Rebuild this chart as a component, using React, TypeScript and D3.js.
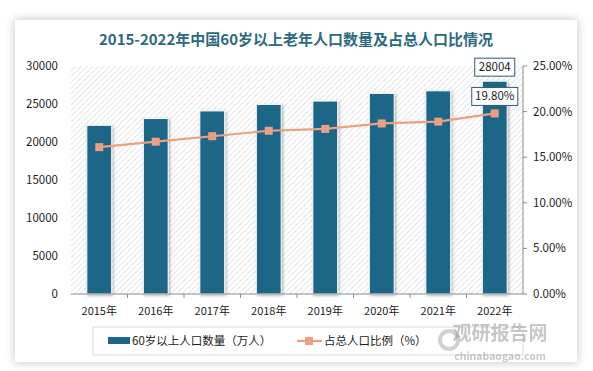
import { useRef, useEffect } from 'react';
import * as d3 from 'd3';

const years = ['2015年', '2016年', '2017年', '2018年', '2019年', '2020年', '2021年', '2022年'];
const population = [22200, 23086, 24090, 24949, 25388, 26402, 26736, 28004];
const ratio = [16.1, 16.7, 17.3, 17.9, 18.1, 18.7, 18.9, 19.8];
const leftTicks = [0, 5000, 10000, 15000, 20000, 25000, 30000];
const rightTicks = [0, 5, 10, 15, 20, 25];

const W = 593;
const H = 371;
const BAR = '#1d6688';
const LINE = '#e9a181';
const FONT = '"Noto Sans CJK SC", "DejaVu Sans", sans-serif';

const App = () => {
  const svgRef = useRef<SVGSVGElement>(null);

  useEffect(() => {
    if (!svgRef.current) return;
    const svg = d3.select(svgRef.current);
    svg.selectAll('*').remove();

    const defs = svg.append('defs');
    const cardShadow = defs.append('filter').attr('id', 'cardShadow')
      .attr('x', '-10%').attr('y', '-10%').attr('width', '120%').attr('height', '120%');
    cardShadow.append('feDropShadow').attr('dx', 0).attr('dy', 0)
      .attr('stdDeviation', 5).attr('flood-color', '#000').attr('flood-opacity', 0.25);

    const barShadow = defs.append('filter').attr('id', 'barShadow')
      .attr('x', '-30%').attr('y', '-10%').attr('width', '160%').attr('height', '120%');
    barShadow.append('feDropShadow').attr('dx', 1).attr('dy', 1)
      .attr('stdDeviation', 1.5).attr('flood-color', '#000').attr('flood-opacity', 0.35);

    const hatch = defs.append('pattern').attr('id', 'hatch')
      .attr('width', 4).attr('height', 4)
      .attr('patternUnits', 'userSpaceOnUse')
      .attr('patternTransform', 'rotate(45)');
    hatch.append('rect').attr('width', 4).attr('height', 4).attr('fill', '#fff');
    hatch.append('line').attr('x1', 0).attr('y1', 0).attr('x2', 0).attr('y2', 4)
      .attr('stroke', '#d4d4d4').attr('stroke-width', 1.2);

    // card
    svg.append('rect').attr('x', 15).attr('y', 20).attr('width', 562).attr('height', 342)
      .attr('fill', '#fff').attr('filter', 'url(#cardShadow)');

    // title
    svg.append('text').attr('x', 296).attr('y', 45).attr('text-anchor', 'middle')
      .attr('font-family', FONT).attr('font-size', 15).attr('font-weight', 'bold')
      .attr('fill', '#2b6a80').text('2015-2022年中国60岁以上老年人口数量及占总人口比情况');

    const margin = { left: 71, right: 523, top: 66, bottom: 294 };
    const x = d3.scaleBand().domain(years).range([margin.left, margin.right]).paddingInner(0.56).paddingOuter(0.28);
    const yL = d3.scaleLinear().domain([0, 30000]).range([margin.bottom, margin.top]);
    const yR = d3.scaleLinear().domain([0, 25]).range([margin.bottom, margin.top]);

    svg.append('rect').attr('x', margin.left).attr('y', margin.top)
      .attr('width', margin.right - margin.left).attr('height', margin.bottom - margin.top)
      .attr('fill', 'url(#hatch)');

    // bars
    svg.append('g').selectAll('rect').data(population).join('rect')
      .attr('x', (d, i) => x(years[i])!)
      .attr('y', d => yL(d))
      .attr('width', x.bandwidth())
      .attr('height', d => yL(0) - yL(d))
      .attr('fill', BAR).attr('stroke', '#fff').attr('stroke-width', 1)
      .attr('filter', 'url(#barShadow)');

    // axes
    svg.append('line').attr('x1', margin.left).attr('x2', margin.right)
      .attr('y1', margin.bottom).attr('y2', margin.bottom).attr('stroke', '#8c8c8c');
    svg.append('line').attr('x1', margin.right).attr('x2', margin.right)
      .attr('y1', margin.top).attr('y2', margin.bottom).attr('stroke', '#8c8c8c');
    svg.append('g').selectAll('line').data(rightTicks).join('line')
      .attr('x1', margin.right).attr('x2', margin.right + 4)
      .attr('y1', d => yR(d)).attr('y2', d => yR(d)).attr('stroke', '#8c8c8c');
    svg.append('g').selectAll('line').data(years.slice(1)).join('line')
      .attr('x1', d => x(d)! - x.step() * 0.28).attr('x2', d => x(d)! - x.step() * 0.28)
      .attr('y1', margin.bottom).attr('y2', margin.bottom + 4).attr('stroke', '#8c8c8c');

    svg.append('g').selectAll('text').data(leftTicks).join('text')
      .attr('x', 58).attr('y', d => yL(d)).attr('dy', '0.35em').attr('text-anchor', 'end')
      .attr('font-family', FONT).attr('font-size', 11.5).attr('fill', '#222')
      .text(d => String(d));
    svg.append('g').selectAll('text').data(rightTicks).join('text')
      .attr('x', 533).attr('y', d => yR(d)).attr('dy', '0.35em')
      .attr('font-family', FONT).attr('font-size', 11.5).attr('fill', '#222')
      .text(d => d.toFixed(2) + '%');
    svg.append('g').selectAll('text').data(years).join('text')
      .attr('x', d => x(d)! + x.bandwidth() / 2).attr('y', 311).attr('dy', '0.35em')
      .attr('text-anchor', 'middle')
      .attr('font-family', FONT).attr('font-size', 11).attr('fill', '#222')
      .text(d => d);

    // line
    const line = d3.line<number>()
      .x((d, i) => x(years[i])! + x.bandwidth() / 2)
      .y(d => yR(d));
    svg.append('path').datum(ratio).attr('d', line).attr('fill', 'none')
      .attr('stroke', LINE).attr('stroke-width', 2.2);
    svg.append('g').selectAll('rect').data(ratio).join('rect')
      .attr('x', (d, i) => x(years[i])! + x.bandwidth() / 2 - 4)
      .attr('y', d => yR(d) - 4)
      .attr('width', 8).attr('height', 8).attr('fill', LINE);

    // data labels for last point
    const lastX = x(years[7])! + x.bandwidth() / 2;
    const labels = [
      { text: String(population[7]), cy: yL(population[7]) - 14, w: 40 },
      { text: ratio[7].toFixed(2) + '%', cy: yR(ratio[7]) - 17, w: 46 },
    ];
    labels.forEach(l => {
      svg.append('rect').attr('x', lastX - l.w / 2).attr('y', l.cy - 9)
        .attr('width', l.w).attr('height', 18)
        .attr('fill', '#fff').attr('stroke', '#2b5d6e').attr('stroke-width', 1);
      svg.append('text').attr('x', lastX).attr('y', l.cy).attr('dy', '0.35em')
        .attr('text-anchor', 'middle').attr('font-family', FONT).attr('font-size', 11.5)
        .attr('fill', '#222').text(l.text);
    });

    // legend
    svg.append('rect').attr('x', 93).attr('y', 327).attr('width', 430).attr('height', 28)
      .attr('fill', '#fff').attr('stroke', '#d9d9d9');
    svg.append('rect').attr('x', 108).attr('y', 337).attr('width', 22).attr('height', 7).attr('fill', BAR);
    svg.append('text').attr('x', 132).attr('y', 341).attr('dy', '0.35em')
      .attr('font-family', FONT).attr('font-size', 11.5).attr('fill', '#222')
      .text('60岁以上人口数量（万人）');
    svg.append('line').attr('x1', 297).attr('x2', 322).attr('y1', 341).attr('y2', 341)
      .attr('stroke', LINE).attr('stroke-width', 2.2);
    svg.append('rect').attr('x', 305).attr('y', 337).attr('width', 8).attr('height', 8).attr('fill', LINE);
    svg.append('text').attr('x', 324).attr('y', 341).attr('dy', '0.35em')
      .attr('font-family', FONT).attr('font-size', 11.5).attr('fill', '#222')
      .text('占总人口比例（%）');

    // watermark
    svg.append('text').attr('x', 500).attr('y', 340).attr('text-anchor', 'middle')
      .attr('font-family', FONT).attr('font-size', 19).attr('font-weight', 'bold')
      .attr('fill', '#9a9a9a').attr('opacity', 0.55).text('观研报告网');
    svg.append('text').attr('x', 500).attr('y', 360).attr('text-anchor', 'middle')
      .attr('font-family', FONT).attr('font-size', 10.5).attr('font-weight', 'bold')
      .attr('fill', '#9a9a9a').attr('opacity', 0.55).text('chinabaogao.com');
    svg.append('circle').attr('cx', 449).attr('cy', 340).attr('r', 9)
      .attr('fill', 'none').attr('stroke', '#9a9a9a').attr('stroke-width', 4).attr('opacity', 0.45);
  }, []);

  return (
    <svg ref={svgRef} width={W} height={H}
      style={{ position: 'absolute', left: 0, top: 0, background: '#fff' }} />
  );
};

export default App;
